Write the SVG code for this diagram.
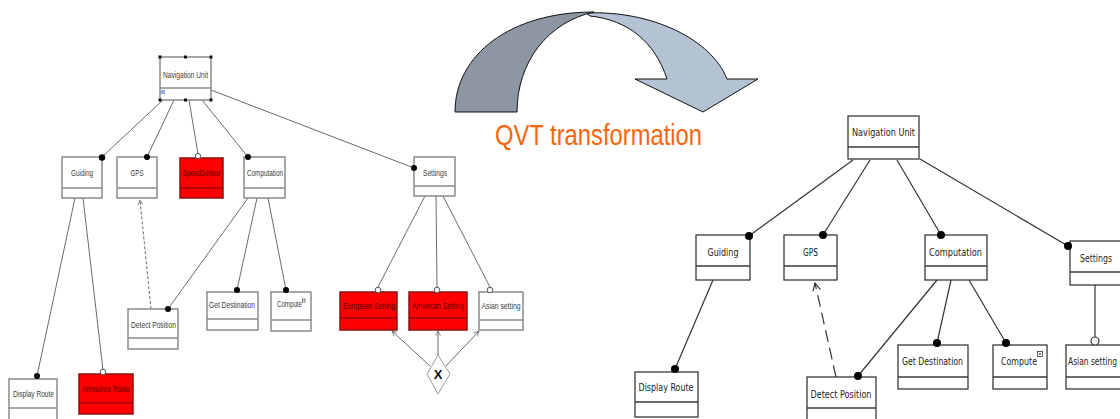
<svg xmlns="http://www.w3.org/2000/svg" width="1120" height="419" viewBox="0 0 1120 419">
<defs>
<style>
.lb{fill:#fff;stroke:#8a8a8a;stroke-width:1.5}
.lr{fill:#ff0000;stroke:#8a1010;stroke-width:1.5}
.ld{stroke:#8a8a8a;stroke-width:1.5;fill:none}
.ldr{stroke:#9a0000;stroke-width:1.5;fill:none}
.lt{font-family:"Liberation Sans",Arial,sans-serif;font-size:9.5px;fill:#3c3c3c;text-anchor:middle}
.ltr{font-family:"Liberation Sans",Arial,sans-serif;font-size:9.5px;fill:#500000;text-anchor:middle}
.lc{stroke:#6a6a6a;stroke-width:1;fill:none}
.rb{fill:#fff;stroke:#3a3a3a;stroke-width:1.3}
.rd{stroke:#3a3a3a;stroke-width:1.3;fill:none}
.rt{font-family:"DejaVu Sans","Liberation Sans",sans-serif;font-size:11px;fill:#222;text-anchor:middle}
.rc{stroke:#333;stroke-width:1.2;fill:none}
.dot{fill:#000}
.odot{fill:#fff;stroke:#555;stroke-width:1}
.qvt{font-family:"Liberation Sans",Arial,sans-serif;font-size:29px;fill:#f7660f}
</style>
<marker id="openL" viewBox="0 0 10 10" refX="9" refY="5" markerWidth="6" markerHeight="6" orient="auto">
<path d="M1,1 L9,5 L1,9" fill="none" stroke="#666" stroke-width="1.3"/>
</marker>
<marker id="openR" viewBox="0 0 10 10" refX="9" refY="5" markerWidth="8" markerHeight="8" orient="auto">
<path d="M1,1 L9,5 L1,9" fill="none" stroke="#333" stroke-width="1.2"/>
</marker>
</defs>
<rect width="1120" height="419" fill="#fff"/>

<!-- QVT curved arrow -->
<g id="qvt-arrow">
<path d="M586,13 C652,10 712,40 727,79 L758,79 L703,112 L635,79 L667,79 C655,42 628,20 590,16 Z" fill="#b3c3d3" stroke="#111" stroke-width="1"/>
<path d="M455,112 C455,55 510,12 594,12 C548,22 517,62 517,112 Z" fill="#8c97a3" stroke="#111" stroke-width="1"/>
<text class="qvt" x="495" y="145" textLength="207" lengthAdjust="spacingAndGlyphs">QVT transformation</text>
</g>

<!-- left connectors -->
<g id="left-connectors">
<line class="lc" x1="163" y1="100" x2="102" y2="157"/>
<line class="lc" x1="174" y1="100" x2="147" y2="157"/>
<line class="lc" x1="189" y1="100" x2="198" y2="154"/>
<line class="lc" x1="202" y1="100" x2="248" y2="157"/>
<line class="lc" x1="211" y1="90" x2="414" y2="168" stroke-width="1.6" stroke="#555"/>
<line class="lc" x1="75" y1="198" x2="37" y2="376"/>
<line class="lc" x1="83" y1="198" x2="103" y2="370"/>
<line class="lc" x1="151" y1="309" x2="140" y2="200" stroke-dasharray="3,2" marker-end="url(#openL)"/>
<line class="lc" x1="248" y1="198" x2="168" y2="309"/>
<line class="lc" x1="257" y1="198" x2="237" y2="290"/>
<line class="lc" x1="268" y1="198" x2="286" y2="290"/>
<line class="lc" x1="425" y1="196" x2="378" y2="287"/>
<line class="lc" x1="436" y1="196" x2="437" y2="287"/>
<line class="lc" x1="443" y1="196" x2="490" y2="287"/>
<line class="lc" x1="430" y1="366" x2="392" y2="331" marker-end="url(#openL)"/>
<line class="lc" x1="438" y1="355" x2="438" y2="331" marker-end="url(#openL)"/>
<line class="lc" x1="446" y1="366" x2="479" y2="331" marker-end="url(#openL)"/>
</g>

<!-- left nodes -->
<g id="L-navigation-unit">
<rect class="lb" x="160" y="57" width="51" height="43"/>
<line class="ld" x1="160" y1="88" x2="211" y2="88"/>
<text class="lt" x="185.5" y="78" textLength="45" lengthAdjust="spacingAndGlyphs">Navigation Unit</text>
<rect x="158.5" y="55.5" width="3" height="3" fill="#111"/>
<rect x="184" y="55.5" width="3" height="3" fill="#111"/>
<rect x="209.5" y="55.5" width="3" height="3" fill="#111"/>
<rect x="158.5" y="98.5" width="3" height="3" fill="#111"/>
<rect x="184" y="98.5" width="3" height="3" fill="#111"/>
<rect x="209.5" y="98.5" width="3" height="3" fill="#111"/>
<path d="M161,91 L165,91 M161,93 L165,93" stroke="#3060c0" stroke-width="1"/>
</g>
<g id="L-guiding">
<rect class="lb" x="62" y="157" width="40" height="41"/>
<line class="ld" x1="62" y1="188" x2="102" y2="188"/>
<text class="lt" x="82" y="176" textLength="22" lengthAdjust="spacingAndGlyphs">Guiding</text>
<circle class="dot" cx="102" cy="157.5" r="3.2"/>
</g>
<g id="L-gps">
<rect class="lb" x="117" y="157" width="40" height="41"/>
<line class="ld" x1="117" y1="188" x2="157" y2="188"/>
<text class="lt" x="137" y="176" textLength="13" lengthAdjust="spacingAndGlyphs">GPS</text>
<circle class="dot" cx="147" cy="157" r="3"/>
</g>
<g id="L-speedsensor">
<rect class="lr" x="180" y="158" width="43" height="40"/>
<line class="ldr" x1="180" y1="188" x2="223" y2="188"/>
<text class="ltr" x="201.5" y="176" textLength="38" lengthAdjust="spacingAndGlyphs">SpeedSensor</text>
<circle class="odot" cx="198" cy="156" r="2.6"/>
</g>
<g id="L-computation">
<rect class="lb" x="244" y="157" width="41" height="41"/>
<line class="ld" x1="244" y1="188" x2="285" y2="188"/>
<text class="lt" x="265" y="176" textLength="36" lengthAdjust="spacingAndGlyphs">Computation</text>
<circle class="dot" cx="248" cy="157" r="3"/>
</g>
<g id="L-settings">
<rect class="lb" x="414" y="157" width="41" height="39"/>
<line class="ld" x1="414" y1="186" x2="455" y2="186"/>
<text class="lt" x="435" y="176" textLength="24" lengthAdjust="spacingAndGlyphs">Settings</text>
<circle class="dot" cx="414" cy="168" r="3"/>
</g>
<g id="L-display-route">
<rect class="lb" x="9" y="379" width="48" height="44"/>
<line class="ld" x1="9" y1="408" x2="57" y2="408"/>
<text class="lt" x="33.5" y="397" textLength="41" lengthAdjust="spacingAndGlyphs">Display Route</text>
<circle class="dot" cx="37" cy="376" r="3"/>
</g>
<g id="L-announce-route">
<rect class="lr" x="79" y="374" width="54" height="40"/>
<line class="ldr" x1="79" y1="403" x2="133" y2="403"/>
<text class="ltr" x="106" y="392" textLength="48" lengthAdjust="spacingAndGlyphs">Announce Route</text>
<circle class="odot" cx="103" cy="372" r="2.8"/>
</g>
<g id="L-detect-position">
<rect class="lb" x="128" y="309" width="50" height="40"/>
<line class="ld" x1="128" y1="338" x2="178" y2="338"/>
<text class="lt" x="153.5" y="328" textLength="45" lengthAdjust="spacingAndGlyphs">Detect Position</text>
<circle class="dot" cx="168" cy="309" r="3"/>
</g>
<g id="L-get-destination">
<rect class="lb" x="207" y="292" width="51" height="38"/>
<line class="ld" x1="207" y1="319" x2="258" y2="319"/>
<text class="lt" x="232" y="308" textLength="46" lengthAdjust="spacingAndGlyphs">Get Destination</text>
<circle class="dot" cx="237" cy="290" r="3"/>
</g>
<g id="L-compute">
<rect class="lb" x="271" y="292" width="40" height="39"/>
<line class="ld" x1="271" y1="320" x2="311" y2="320"/>
<text class="lt" x="289.5" y="307" textLength="25" lengthAdjust="spacingAndGlyphs">Compute</text>
<rect x="302.5" y="299" width="2.5" height="3" fill="none" stroke="#444" stroke-width="0.7"/>
<circle class="dot" cx="286" cy="290" r="3"/>
</g>
<g id="L-european-setting">
<rect class="lr" x="340" y="292" width="57" height="38"/>
<line class="ldr" x1="340" y1="318" x2="397" y2="318"/>
<text class="ltr" x="369" y="309" textLength="52" lengthAdjust="spacingAndGlyphs">European Setting</text>
<circle class="odot" cx="378" cy="290" r="2.8"/>
</g>
<g id="L-american-setting">
<rect class="lr" x="409" y="292" width="58" height="38"/>
<line class="ldr" x1="409" y1="318" x2="467" y2="318"/>
<text class="ltr" x="438" y="309" textLength="52" lengthAdjust="spacingAndGlyphs">American Setting</text>
<circle class="odot" cx="437" cy="290" r="2.8"/>
</g>
<g id="L-asian-setting">
<rect class="lb" x="479" y="292" width="44" height="38"/>
<line class="ld" x1="479" y1="320" x2="523" y2="320"/>
<text class="lt" x="501" y="309" textLength="39" lengthAdjust="spacingAndGlyphs">Asian setting</text>
<circle class="odot" cx="490" cy="290" r="2.8"/>
</g>
<g id="L-xor">
<polygon points="438,355 450,374 438,394 427,374" fill="#fff" stroke="#999" stroke-width="1"/>
<text x="438" y="379" font-family="'Liberation Sans',Arial,sans-serif" font-size="13" font-weight="bold" fill="#111" text-anchor="middle">X</text>
</g>

<!-- right connectors -->
<g id="right-connectors">
<line class="rc" x1="853" y1="160" x2="749" y2="236"/>
<line class="rc" x1="870" y1="160" x2="823" y2="235"/>
<line class="rc" x1="897" y1="160" x2="941" y2="235"/>
<line class="rc" x1="920" y1="159" x2="1068" y2="246"/>
<line class="rc" x1="713" y1="280" x2="675" y2="369"/>
<line class="rc" x1="836" y1="377" x2="815" y2="283" stroke-dasharray="12,6" marker-end="url(#openR)"/>
<line class="rc" x1="937" y1="280" x2="858" y2="376"/>
<line class="rc" x1="951" y1="280" x2="937" y2="343"/>
<line class="rc" x1="969" y1="280" x2="1006" y2="343"/>
<line class="rc" x1="1095" y1="285" x2="1095" y2="337"/>
</g>

<!-- right nodes -->
<g id="R-navigation-unit">
<rect class="rb" x="848" y="116" width="71" height="43"/>
<line class="rd" x1="848" y1="147" x2="919" y2="147"/>
<text class="rt" x="883.5" y="136" textLength="63" lengthAdjust="spacingAndGlyphs">Navigation Unit</text>
</g>
<g id="R-guiding">
<rect class="rb" x="696" y="235" width="54" height="45"/>
<line class="rd" x1="696" y1="266" x2="750" y2="266"/>
<text class="rt" x="723" y="256" textLength="31" lengthAdjust="spacingAndGlyphs">Guiding</text>
<circle class="dot" cx="749" cy="236" r="4"/>
</g>
<g id="R-gps">
<rect class="rb" x="784" y="235" width="53" height="45"/>
<line class="rd" x1="784" y1="266" x2="837" y2="266"/>
<text class="rt" x="810.5" y="256" textLength="15" lengthAdjust="spacingAndGlyphs">GPS</text>
<circle class="dot" cx="823" cy="235" r="4"/>
</g>
<g id="R-computation">
<rect class="rb" x="925" y="235" width="62" height="45"/>
<line class="rd" x1="925" y1="266" x2="987" y2="266"/>
<text class="rt" x="955.5" y="256" textLength="53" lengthAdjust="spacingAndGlyphs">Computation</text>
<circle class="dot" cx="941" cy="235" r="4"/>
</g>
<g id="R-settings">
<rect class="rb" x="1070" y="241" width="60" height="44"/>
<line class="rd" x1="1070" y1="272" x2="1130" y2="272"/>
<text class="rt" x="1080" y="262" textLength="32" lengthAdjust="spacingAndGlyphs" style="text-anchor:start">Settings</text>
<circle class="dot" cx="1068" cy="246" r="4"/>
</g>
<g id="R-display-route">
<rect class="rb" x="635" y="372" width="63" height="45"/>
<line class="rd" x1="635" y1="402" x2="698" y2="402"/>
<text class="rt" x="666" y="391" textLength="55" lengthAdjust="spacingAndGlyphs">Display Route</text>
<circle class="dot" cx="675" cy="369" r="4"/>
</g>
<g id="R-detect-position">
<rect class="rb" x="807" y="377" width="69" height="50"/>
<line class="rd" x1="807" y1="408" x2="876" y2="408"/>
<text class="rt" x="841" y="398" textLength="61" lengthAdjust="spacingAndGlyphs">Detect Position</text>
<circle class="dot" cx="858" cy="376" r="4"/>
</g>
<g id="R-get-destination">
<rect class="rb" x="898" y="345" width="70" height="44"/>
<line class="rd" x1="898" y1="377" x2="968" y2="377"/>
<text class="rt" x="932.5" y="365" textLength="61" lengthAdjust="spacingAndGlyphs">Get Destination</text>
<circle class="dot" cx="937" cy="343" r="4"/>
</g>
<g id="R-compute">
<rect class="rb" x="993" y="345" width="54" height="44"/>
<line class="rd" x1="993" y1="377" x2="1047" y2="377"/>
<text class="rt" x="1019" y="365" textLength="36" lengthAdjust="spacingAndGlyphs">Compute</text>
<rect x="1037.5" y="351.5" width="5" height="5" fill="none" stroke="#333" stroke-width="0.8"/>
<rect x="1039.2" y="353.2" width="1.6" height="1.6" fill="#333"/>
<circle class="dot" cx="1006" cy="343" r="4"/>
</g>
<g id="R-asian-setting">
<rect class="rb" x="1066" y="345" width="60" height="44"/>
<line class="rd" x1="1066" y1="377" x2="1126" y2="377"/>
<text class="rt" x="1068" y="365" textLength="49" lengthAdjust="spacingAndGlyphs" style="text-anchor:start">Asian setting</text>
<circle cx="1095" cy="341" r="4" fill="#fff" stroke="#333" stroke-width="1.2"/>
</g>
</svg>
